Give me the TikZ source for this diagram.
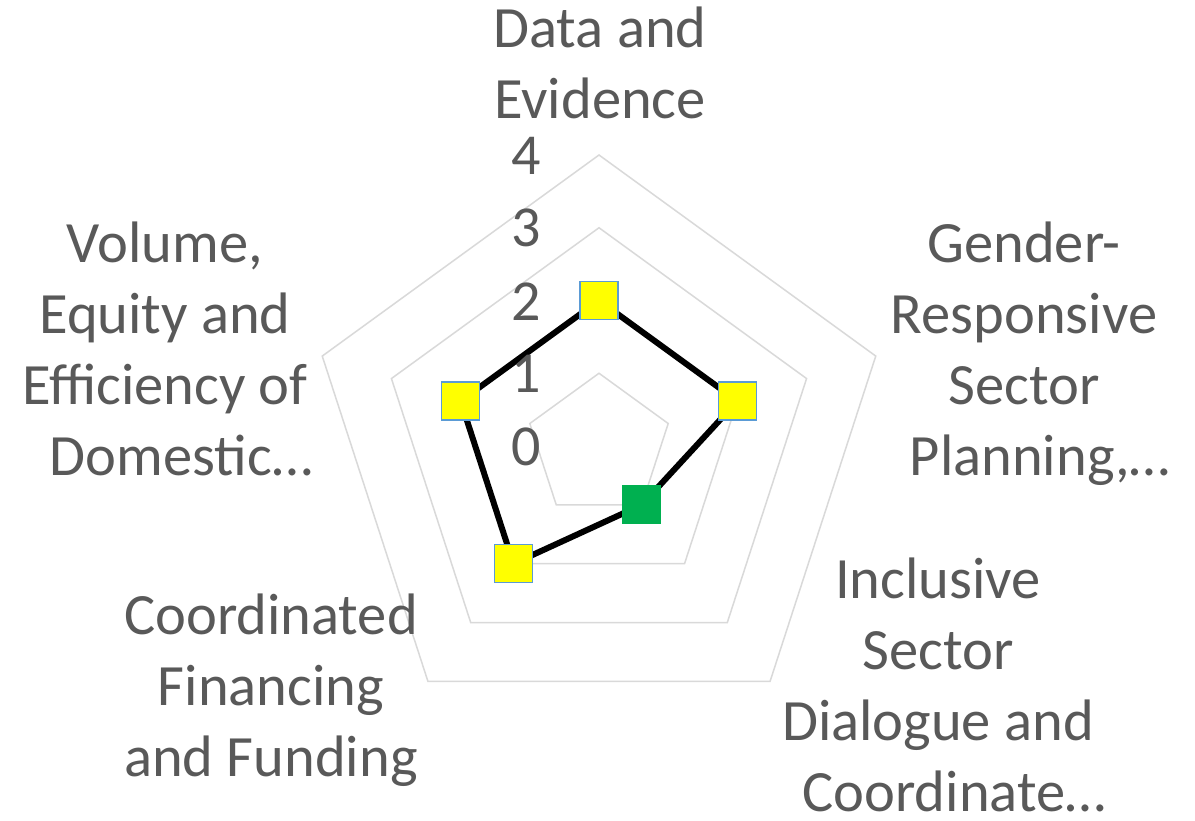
\documentclass[tikz,border=0pt]{standalone}
\usepackage{fontspec}
\setmainfont{Carlito}
\definecolor{gridgray}{HTML}{D9D9D9}
\definecolor{labelgray}{HTML}{595959}
\definecolor{markblue}{HTML}{5B9BD5}
\definecolor{markgreen}{HTML}{00B050}
\definecolor{markyellow}{HTML}{FFFF00}
\begin{document}
\begin{tikzpicture}[x=1pt,y=-1pt,
  grid/.style={draw=gridgray, line width=1.5pt, line join=miter},
  dataline/.style={draw=black, line width=6pt, line join=round},
  ymark/.style={rectangle, minimum size=38pt, inner sep=0pt, fill=markyellow, draw=markblue, line width=1.5pt},
  gmark/.style={rectangle, minimum size=38pt, inner sep=0pt, fill=markgreen, draw=markgreen, line width=1pt},
  lbl/.style={font=\fontsize{58.5}{71}\selectfont, text=labelgray, align=center, inner sep=0pt, anchor=base},
  ticklbl/.style={font=\fontsize{58}{68}\selectfont, text=labelgray, inner sep=0pt, anchor=base east}]
\useasboundingbox (0,0) rectangle (1195,821);
\fill[white] (0,0) rectangle (1195,821);
\begin{scope}[shift={(599,446)}]
  \foreach \k in {1,2,3,4}{
    \pgfmathsetmacro{\r}{72.75*\k}
    \draw[grid] (-90:\r) -- (-18:\r) -- (54:\r) -- (126:\r) -- (198:\r) -- cycle;
  }
  \coordinate (p0) at (-90:145.5);
  \coordinate (p1) at (-18:145.5);
  \coordinate (p2) at (54:72.75);
  \coordinate (p3) at (126:145.5);
  \coordinate (p4) at (198:145.5);
\end{scope}
\draw[dataline] (p0) -- (p1) -- (p2) -- (p3) -- (p4) -- cycle;
\node[ymark] (m0) at (p0) {};
\node[ymark] (m1) at (p1) {};
\node[gmark] (m2) at (p2) {};
\node[ymark] (m3) at (p3) {};
\node[ymark] (m4) at (p4) {};
% value axis labels
\node[ticklbl] (v4) at (541,175) {4};
\node[ticklbl] (v3) at (541,247) {3};
\node[ticklbl] (v2) at (541,320) {2};
\node[ticklbl] (v1) at (541,392) {1};
\node[ticklbl] (v0) at (541,465) {0};
% category labels (anchor = baseline of last line)
\node[lbl] (tData) at (600,119) {Data and\\Evidence};
\node[lbl] (tGender) at (1024,475) {Gender-\\Responsive\\Sector\\\hspace*{0.55em}Planning,…};
\node[lbl] (tIncl) at (938,811) {Inclusive\\Sector\\Dialogue and\\\hspace*{0.55em}Coordinate…};
\node[lbl] (tCoord) at (271,776) {Coordinated\\Financing\\and Funding};
\node[lbl] (tVol) at (165,475) {Volume,\\Equity and\\Efficiency of\\\hspace*{0.55em}Domestic…};
\end{tikzpicture}
\end{document}
